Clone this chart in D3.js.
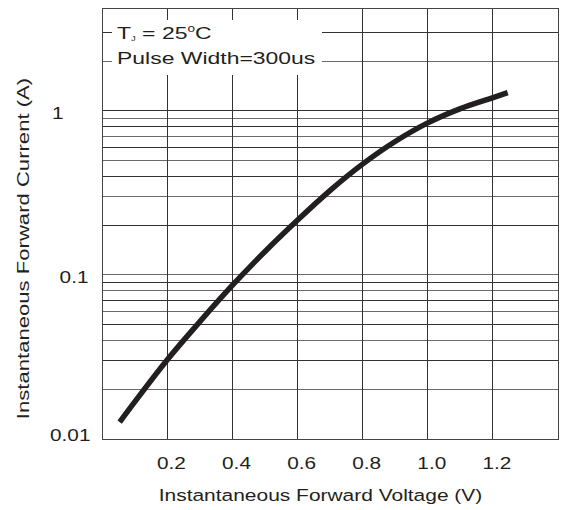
<!DOCTYPE html>
<html>
<head>
<meta charset="utf-8">
<script src="https://cdn.jsdelivr.net/npm/d3@7"></script>
<style>
  html, body { margin: 0; padding: 0; background: #fff; }
  svg { display: block; font-family: "Liberation Sans", Arial, sans-serif; }
</style>
</head>
<body>
<svg id="chart" width="561" height="510"></svg>
<script>
// ---- data ----
const voltage = [0.055, 0.1, 0.2, 0.3, 0.4, 0.5, 0.6, 0.7, 0.8, 0.9, 1.0, 1.1, 1.2, 1.247];
const current = [0.0126, 0.0166, 0.0300, 0.0512, 0.0853, 0.137, 0.213, 0.323, 0.468, 0.643, 0.835, 1.02, 1.19, 1.28];
const xTicks = [0.2, 0.4, 0.6, 0.8, 1.0, 1.2];
const xTickLabels = ["0.2", "0.4", "0.6", "0.8", "1.0", "1.2"];
const yTicks = [0.01, 0.1, 1];
const yTickLabels = ["0.01", "0.1", "1"];
const yGrid = [0.02, 0.03, 0.04, 0.05, 0.06, 0.07, 0.08, 0.09,
               0.1, 0.2, 0.3, 0.4, 0.5, 0.6, 0.7, 0.8, 0.9, 1, 2, 3];
const xTitle = "Instantaneous Forward Voltage (V)";
const yTitle = "Instantaneous Forward Current (A)";
const legendLine2 = "Pulse Width=300us";

// ---- layout ----
const L = 101.8, R = 557.5, T = 8, B = 438.5;
const SX = 1.3; // horizontal stretch of the lettering
const ink = "#231f20";
const FF = "Liberation Sans, Arial, sans-serif";
const svg = d3.select("#chart");

const x = d3.scaleLinear().domain([0, 1.4]).range([L, R]);
const y = d3.scaleLog().domain([0.01, 4.2]).range([B, T]);

// grid
const grid = svg.append("g").attr("shape-rendering", "crispEdges");
grid.selectAll("line.h").data(yGrid).join("line")
  .attr("x1", L).attr("x2", R)
  .attr("y1", d => Math.round(y(d)) + 0.5).attr("y2", d => Math.round(y(d)) + 0.5)
  .attr("stroke", (d, i) => i % 2 ? "#333" : "#6a6a6a").attr("stroke-width", 1);
grid.selectAll("line.v").data(xTicks).join("line")
  .attr("y1", T).attr("y2", B)
  .attr("x1", d => Math.round(x(d)) + 0.5).attr("x2", d => Math.round(x(d)) + 0.5)
  .attr("stroke", "#333").attr("stroke-width", 1);

// legend box (white background covering grid)
svg.append("rect").attr("x", 112).attr("y", 20).attr("width", 210).attr("height", 55).attr("fill", "#fff");

// frame
svg.append("rect").attr("x", Math.round(L) + 0.5).attr("y", T + 0.5)
  .attr("width", Math.round(R) - Math.round(L)).attr("height", Math.round(B) - T)
  .attr("fill", "none").attr("stroke", "#444").attr("stroke-width", 1)
  .attr("shape-rendering", "crispEdges");

// curve
const pts = voltage.map((v, i) => [v, current[i]]);
svg.append("path").datum(pts)
  .attr("d", d3.line().x(d => x(d[0])).y(d => y(d[1])).curve(d3.curveCatmullRom.alpha(0.5)))
  .attr("fill", "none").attr("stroke", ink).attr("stroke-width", 5.5)
  .attr("stroke-linecap", "butt");

// x axis labels
const xAxis = d3.axisBottom(x).tickValues(xTicks)
  .tickFormat((d, i) => xTickLabels[i]).tickSize(0).tickPadding(0);
const gx = svg.append("g").attr("transform", `translate(0,${469})`).call(xAxis);
gx.select(".domain").remove();
gx.selectAll("text").attr("dy", 0).attr("y", 0).attr("x", 4 / SX)
  .attr("transform", `scale(${SX},1)`)
  .attr("font-size", 16).attr("font-family", FF)
  .attr("fill", ink);

// y axis labels
const yEnds = { "0.01": 90.5, "0.1": 88.5, "1": 63.5 };
const yAxis = d3.axisLeft(y).tickValues(yTicks)
  .tickFormat((d, i) => yTickLabels[i]).tickSize(0).tickPadding(0);
const gy = svg.append("g").attr("transform", `translate(${L},0)`).call(yAxis);
gy.select(".domain").remove();
gy.selectAll("text")
  .attr("x", d => (yEnds[yTickLabels[yTicks.indexOf(d)]] - L) / SX)
  .attr("dy", d => d === 0.01 ? "0.15em" : "0.5em")
  .attr("transform", `scale(${SX},1)`)
  .attr("text-anchor", "end")
  .attr("font-size", 16).attr("font-family", FF)
  .attr("fill", ink);

// axis titles
svg.append("text")
  .attr("transform", `translate(${320.5},${501}) scale(1.27,1)`)
  .attr("text-anchor", "middle").attr("font-size", 16.5).attr("fill", ink)
  .text(xTitle);
svg.append("text")
  .attr("transform", `translate(${29},${248.5}) rotate(-90) scale(${SX},1)`)
  .attr("text-anchor", "middle").attr("font-size", 17).attr("fill", ink)
  .text(yTitle);

// legend text
const LS = 1.35;
const l1 = svg.append("text")
  .attr("transform", `translate(117,39) scale(${LS},1)`)
  .attr("font-size", 17).attr("fill", ink);
l1.append("tspan").text("T");
l1.append("tspan").attr("font-size", 7).attr("dy", 2).text("J");
l1.append("tspan").attr("dy", -2).text(" = 25");
l1.append("tspan").attr("font-size", 10).attr("dy", -7).text("o");
l1.append("tspan").attr("dy", 7).text("C");
svg.append("text")
  .attr("transform", `translate(117,64) scale(${LS},1)`)
  .attr("font-size", 17).attr("fill", ink)
  .text(legendLine2);
</script>
</body>
</html>
